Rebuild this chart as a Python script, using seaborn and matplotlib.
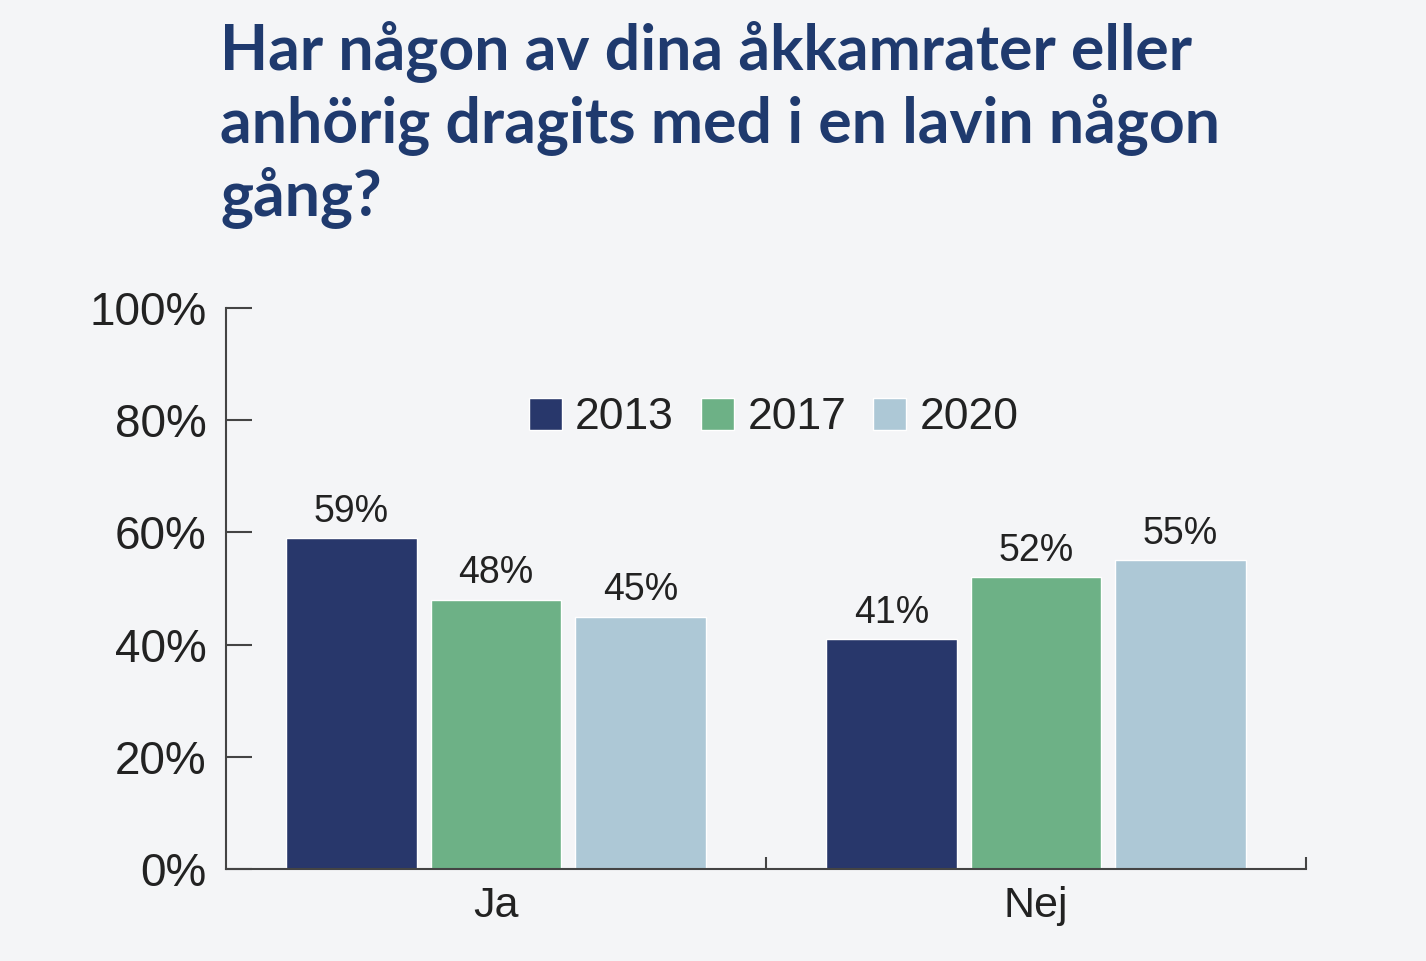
import pandas as pd
import matplotlib.pyplot as plt
import seaborn as sns

# Data
svar = ["Ja", "Nej"]
ar = ["2013", "2017", "2020"]
andel_2013 = [59, 41]
andel_2017 = [48, 52]
andel_2020 = [45, 55]

farger = ["#28376b", "#6db186", "#adc8d6"]
bakgrund = "#f4f5f7"
titelfarg = "#1f3a6e"
textfarg = "#222222"

df = pd.DataFrame({
    "svar": svar * 3,
    "ar": [a for a in ar for _ in svar],
    "andel": andel_2013 + andel_2017 + andel_2020,
})

sns.set_style("white")
plt.rcParams["font.family"] = ["Liberation Sans", "DejaVu Sans"]

fig = plt.figure(figsize=(14.26, 9.61), dpi=100, facecolor=bakgrund)
ax = fig.add_axes([226 / 1426, 1 - 869 / 961, 1080 / 1426, 561 / 961])
ax.set_facecolor(bakgrund)

sns.barplot(data=df, x="svar", y="andel", hue="ar", palette=farger,
            width=0.803, gap=0.1, saturation=1, ax=ax)

for cont in ax.containers:
    ax.bar_label(cont, fmt="{:.0f}%", padding=6, fontsize=27, color=textfarg)

ax.set_xlim(-0.5, 1.5)
ax.set_ylim(0, 100)
ax.set_yticks(range(0, 101, 20))
ax.set_yticklabels([f"{v}%" for v in range(0, 101, 20)])
ax.set_xlabel("")
ax.set_ylabel("")

ax.set_xticks([0.5, 1.5], minor=True)
ax.tick_params(axis="x", which="major", bottom=True, length=0, labelsize=31, pad=12,
               colors=textfarg)
ax.tick_params(axis="x", which="minor", bottom=True, direction="in", length=9, width=1.5,
               color="#444444")
ax.tick_params(axis="y", left=True, direction="in", length=19, width=1.5, color="#444444",
               labelsize=33, pad=14, labelcolor=textfarg)

sns.despine(ax=ax)
for s in ["left", "bottom"]:
    ax.spines[s].set_color("#444444")
    ax.spines[s].set_linewidth(1.5)

ax.legend(loc="center", bbox_to_anchor=(0.507, 0.804), ncol=3, frameon=False,
          fontsize=32, handlelength=0.75, handleheight=0.75, handletextpad=0.3,
          columnspacing=0.6, labelcolor=textfarg)

fig.text(220 / 1426, 1 - 20 / 961,
         "Har någon av dina åkkamrater eller\nanhörig dragits med i en lavin någon\ngång?",
         fontsize=45, fontweight="bold", color=titelfarg, va="top", ha="left",
         linespacing=1.22, family=["Lato", "DejaVu Sans"])

fig.savefig("out.png", dpi=100, facecolor=bakgrund)
